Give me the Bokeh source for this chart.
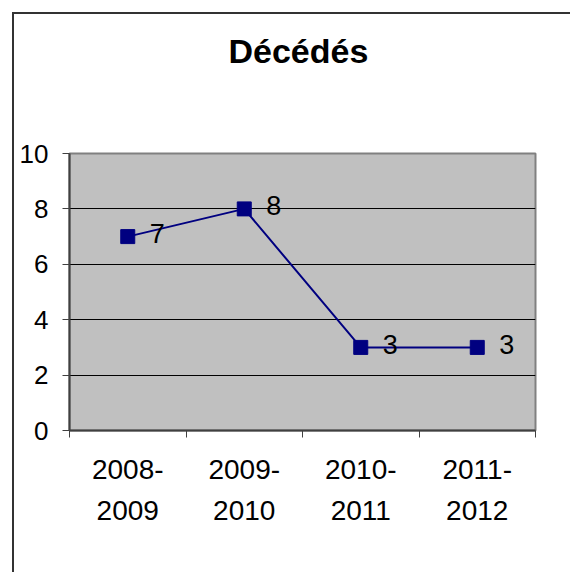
from bokeh.plotting import figure
from bokeh.models import Range1d, FixedTicker
from bokeh.core.properties import value
from bokeh.embed import file_html
from bokeh.resources import INLINE

# ---- data ----
categories = ["2008-\n2009", "2009-\n2010", "2010-\n2011", "2011-\n2012"]
deaths = [7, 8, 3, 3]
y_ticks = [0, 2, 4, 6, 8, 10]
grid_ticks = [2, 4, 6, 8]
title_text = "Décédés"

x_pos = [i + 0.5 for i in range(len(categories))]
boundaries = list(range(len(categories) + 1))

FONT = "Liberation Sans"
NAVY = "#000080"

p = figure(width=558, height=560, output_backend="svg", toolbar_location=None,
           x_range=Range1d(0, len(categories)), y_range=Range1d(y_ticks[0], y_ticks[-1]),
           min_border_left=55, min_border_right=37, min_border_top=139, min_border_bottom=144)

p.styles = {"margin-left": "12px", "margin-top": "12px",
            "border-left": "2px solid #333333", "border-top": "2px solid #333333"}

p.background_fill_color = "#C0C0C0"
p.border_fill_color = "white"
p.outline_line_color = "#808080"
p.outline_line_width = 2

# title
p.title.text = title_text
p.title.align = "left"
p.title.offset = 159
p.title.vertical_align = "bottom"
p.title.standoff = 0
p.title.padding = dict(left=0, right=0, top=0, bottom=84)
p.title.text_font = FONT
p.title.text_font_size = "34px"
p.title.text_font_style = "bold"
p.title.text_color = "black"

# grid
p.xgrid.visible = False
p.ygrid.ticker = FixedTicker(ticks=grid_ticks)
p.ygrid.grid_line_color = "black"
p.ygrid.grid_line_width = 1

# y axis
ya = p.yaxis[0]
ya.ticker = FixedTicker(ticks=y_ticks)
ya.major_tick_out = 7
ya.major_tick_in = 0
ya.minor_tick_out = 0
ya.minor_tick_in = 0
ya.axis_line_color = "#404040"
ya.axis_line_width = 2
ya.major_tick_line_color = "#404040"
ya.major_label_standoff = 14
ya.major_label_text_font = FONT
ya.major_label_text_font_size = "26px"
ya.major_label_text_color = "black"

# x axis
xa = p.xaxis[0]
xa.ticker = FixedTicker(ticks=x_pos, minor_ticks=boundaries)
xa.major_tick_out = 0
xa.major_tick_in = 0
xa.minor_tick_out = 7
xa.minor_tick_in = 0
xa.minor_tick_line_color = "#404040"
xa.axis_line_color = "#404040"
xa.axis_line_width = 2
xa.major_label_overrides = {x: c for x, c in zip(x_pos, categories)}
xa.major_label_standoff = 16
xa.major_label_text_font = FONT
xa.major_label_text_font_size = "28px"
xa.major_label_text_line_height = 1.34
xa.major_label_text_color = "black"

# series
p.line(x_pos, deaths, line_color=NAVY, line_width=2)
p.scatter(x_pos, deaths, marker="square", size=14, fill_color=NAVY, line_color=NAVY)
p.text(x_pos, deaths, text=[str(d) for d in deaths], x_offset=22, y_offset=-3,
       text_align="left", text_baseline="middle",
       text_font=value(FONT), text_font_size="27px", text_color="black")

open("out.html", "w").write(file_html(p, INLINE))
